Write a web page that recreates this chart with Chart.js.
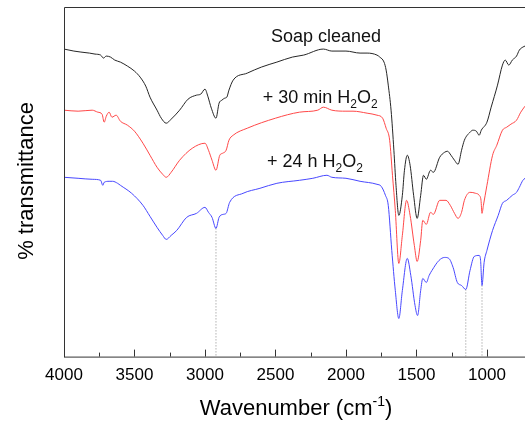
<!DOCTYPE html>
<html>
<head>
<meta charset="utf-8">
<script src="https://cdn.jsdelivr.net/npm/chart.js@4"></script>
<style>
  body { margin: 0; background: #fff; }
  canvas { display: block; }
</style>
</head>
<body>
<canvas id="ftirChart" width="525" height="423"></canvas>
<script>
// wavenumber (cm-1) and transmittance (arbitrary offset units) for each spectrum
const soapWn = [4000, 3930, 3880, 3820, 3780, 3740, 3720, 3700, 3670, 3640, 3600, 3550, 3500, 3460, 3420, 3390, 3340, 3310, 3275, 3240, 3180, 3120, 3060, 3030, 3000, 2980, 2955, 2922, 2900, 2880, 2860, 2845, 2830, 2800, 2700, 2600, 2490, 2380, 2300, 2160, 2100, 2000, 1900, 1850, 1780, 1760, 1730, 1715, 1700, 1680, 1660, 1645, 1625, 1600, 1585, 1565, 1545, 1520, 1495, 1470, 1450, 1430, 1400, 1380, 1335, 1300, 1280, 1255, 1230, 1205, 1180, 1160, 1120, 1100, 1075, 1055, 1040, 1000, 970, 925, 890, 870, 845, 820, 790, 770, 745, 730];
const soapT = [307, 305, 304, 303, 302, 301, 298, 300, 299, 296, 294, 290, 285, 279, 270, 259, 246, 238, 233, 237, 246, 257, 261, 262, 267, 260, 248, 238, 253, 256, 258, 259, 266, 276, 283, 289, 294, 299, 301, 307, 305, 305, 303, 303, 301, 299, 294, 286, 271, 246, 206, 171, 141, 161, 186, 201, 191, 161, 138, 161, 181, 177, 186, 184, 199, 204, 205, 201, 196, 192, 206, 216, 224, 226, 225, 221, 226, 234, 249, 271, 291, 296, 291, 296, 300, 306, 309, 310];

const min30Wn = [4000, 3900, 3800, 3760, 3730, 3715, 3700, 3680, 3660, 3630, 3600, 3550, 3500, 3440, 3390, 3340, 3300, 3275, 3240, 3180, 3090, 3000, 2975, 2950, 2922, 2895, 2875, 2850, 2830, 2800, 2700, 2500, 2330, 2200, 2160, 2100, 2000, 1950, 1850, 1780, 1740, 1715, 1690, 1670, 1650, 1625, 1600, 1570, 1545, 1515, 1495, 1470, 1455, 1430, 1400, 1380, 1335, 1290, 1260, 1230, 1205, 1180, 1160, 1120, 1080, 1055, 1042, 1035, 1025, 1000, 960, 930, 890, 860, 830, 790, 760, 730];
const min30T = [246, 245, 246, 244, 242, 234, 240, 244, 239, 241, 235, 231, 225, 213, 201, 189, 182, 179, 184, 196, 208, 213, 206, 196, 186, 201, 203, 206, 216, 221, 228, 238, 244, 246, 249, 246, 245, 245, 243, 241, 238, 228, 216, 181, 146, 93, 121, 156, 141, 111, 95, 116, 136, 132, 144, 142, 156, 156, 151, 143, 138, 144, 156, 164, 163, 161, 156, 143, 151, 171, 201, 211, 226, 229, 232, 236, 244, 250];

const h24Wn = [4000, 3900, 3800, 3740, 3725, 3715, 3680, 3655, 3620, 3600, 3520, 3440, 3390, 3340, 3300, 3275, 3240, 3200, 3130, 3060, 3000, 2975, 2950, 2922, 2900, 2870, 2850, 2825, 2730, 2610, 2490, 2330, 2235, 2135, 2100, 2000, 1900, 1780, 1750, 1720, 1700, 1675, 1650, 1625, 1600, 1565, 1540, 1510, 1492, 1470, 1455, 1430, 1410, 1390, 1340, 1300, 1270, 1240, 1210, 1180, 1150, 1120, 1090, 1055, 1045, 1035, 1020, 1000, 960, 920, 890, 860, 820, 790, 770, 745, 730];
const h24T = [179, 178, 177, 176, 171, 174, 175, 175, 173, 171, 163, 151, 140, 129, 121, 117, 121, 126, 139, 143, 149, 144, 139, 128, 139, 142, 143, 154, 163, 168, 173, 176, 178, 181, 179, 178, 175, 172, 170, 161, 151, 106, 66, 38, 66, 98, 81, 51, 41, 66, 78, 74, 81, 86, 96, 99, 98, 89, 74, 71, 67, 86, 100, 101, 96, 71, 94, 106, 126, 141, 153, 156, 161, 164, 169, 176, 178];

// dotted marker lines dropped from the 24 h trace
const markWn = [2922, 1150, 1035];
const markTop = [128, 67, 71];

// x axis ticks
const majorTicks = [4000, 3500, 3000, 2500, 2000, 1500, 1000];
const minorTicks = [3750, 3250, 2750, 2250, 1750, 1250];

// trace labels: [text, isSubscript] pieces, anchored at wavenumber / transmittance
const labelParts = [
  [['Soap cleaned', false]],
  [['+ 30 min H', false], ['2', true], ['O', false], ['2', true]],
  [['+ 24 h H', false], ['2', true], ['O', false], ['2', true]]
];
const labelWn = [2532, 2590, 2560];
const labelT = [314, 253, 189];

const FONT = '"Liberation Sans", Arial, sans-serif';

function pts(xs, ys) {
  return xs.map((x, i) => ({ x: x, y: ys[i] }));
}

const datasets = [
  { data: pts(soapWn, soapT), borderColor: '#262626' },
  { data: pts(min30Wn, min30T), borderColor: '#ff4848' },
  { data: pts(h24Wn, h24T), borderColor: '#4848ff' }
].map(d => Object.assign(d, { borderWidth: 1, pointRadius: 0, cubicInterpolationMode: 'monotone' }));

markWn.forEach((wn, i) => {
  datasets.push({
    data: [{ x: wn, y: markTop[i] }, { x: wn, y: 0 }],
    borderColor: '#8a8a8a',
    borderWidth: 1,
    borderDash: [1, 2],
    pointRadius: 0
  });
});

function drawPieces(ctx, parts, x, y, size) {
  let cx = x;
  parts.forEach(([txt, sub]) => {
    ctx.font = (sub ? Math.round(size * 0.68) : size) + 'px ' + FONT;
    ctx.fillText(txt, cx, sub ? y + 5 : y);
    cx += ctx.measureText(txt).width;
  });
  return cx;
}

const decor = {
  id: 'decor',
  afterDraw(chart) {
    const ctx = chart.ctx;
    const a = chart.chartArea;
    const xs = chart.scales.x;
    const ys = chart.scales.y;
    ctx.save();
    ctx.strokeStyle = '#333';
    ctx.lineWidth = 1;
    ctx.beginPath();
    ctx.moveTo(a.left + 0.5, a.bottom + 0.5);
    ctx.lineTo(a.left + 0.5, a.top + 0.5);
    ctx.lineTo(a.right, a.top + 0.5);
    ctx.moveTo(a.left, a.bottom + 0.5);
    ctx.lineTo(a.right, a.bottom + 0.5);
    // inward ticks
    majorTicks.forEach(v => {
      const px = Math.round(xs.getPixelForValue(v)) + 0.5;
      ctx.moveTo(px, a.bottom);
      ctx.lineTo(px, a.bottom - 7);
    });
    minorTicks.forEach(v => {
      const px = Math.round(xs.getPixelForValue(v)) + 0.5;
      ctx.moveTo(px, a.bottom);
      ctx.lineTo(px, a.bottom - 4);
    });
    ctx.stroke();

    // trace labels
    ctx.fillStyle = '#111';
    ctx.textBaseline = 'alphabetic';
    ctx.textAlign = 'left';
    labelParts.forEach((parts, i) => {
      drawPieces(ctx, parts, xs.getPixelForValue(labelWn[i]), ys.getPixelForValue(labelT[i]), 18);
    });

    // x axis title with superscript
    ctx.fillStyle = '#000';
    ctx.font = '22px ' + FONT;
    const main = 'Wavenumber (cm';
    const w1 = ctx.measureText(main).width;
    ctx.font = '14px ' + FONT;
    const w2 = ctx.measureText('-1').width;
    ctx.font = '22px ' + FONT;
    const w3 = ctx.measureText(')').width;
    const x0 = 296 - (w1 + w2 + w3) / 2;
    const by = 415;
    ctx.fillText(main, x0, by);
    ctx.font = '14px ' + FONT;
    ctx.fillText('-1', x0 + w1, by - 9);
    ctx.font = '22px ' + FONT;
    ctx.fillText(')', x0 + w1 + w2, by);

    // y axis title
    ctx.translate(27, 181);
    ctx.rotate(-Math.PI / 2);
    ctx.textAlign = 'center';
    ctx.textBaseline = 'middle';
    ctx.fillText('% transmittance', 0, 0);
    ctx.restore();
  }
};

new Chart(document.getElementById('ftirChart'), {
  type: 'line',
  data: { datasets: datasets },
  options: {
    responsive: false,
    animation: false,
    layout: { padding: { left: 64, top: 7, right: 0, bottom: 28 } },
    plugins: { legend: { display: false }, tooltip: { enabled: false } },
    scales: {
      x: {
        type: 'linear',
        reverse: true,
        min: 730,
        max: 4000,
        grid: { display: false, drawTicks: false },
        border: { display: false },
        afterBuildTicks: scale => {
          scale.ticks = majorTicks.map(v => ({ value: v }));
        },
        ticks: {
          padding: 9,
          color: '#000',
          font: { size: 17, family: FONT },
          maxRotation: 0,
          autoSkip: false,
          callback: v => String(v)
        }
      },
      y: {
        display: false,
        min: 0,
        max: 349
      }
    }
  },
  plugins: [decor]
});
</script>
</body>
</html>
